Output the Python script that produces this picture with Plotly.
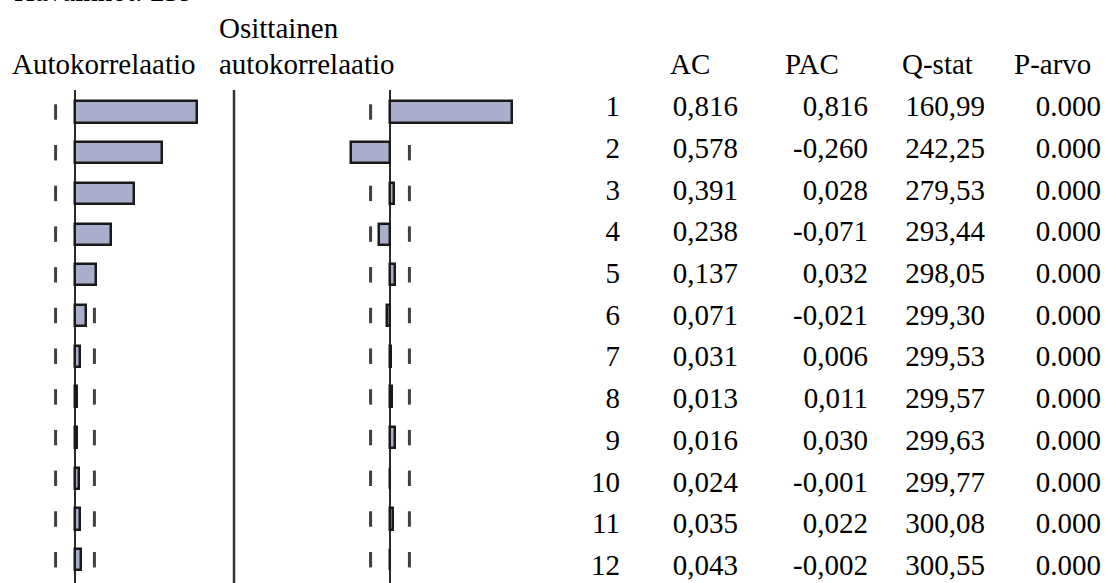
import plotly.graph_objects as go

# Correlogram data (239 observations)
lags = list(range(1, 13))
ac = [0.816, 0.578, 0.391, 0.238, 0.137, 0.071, 0.031, 0.013, 0.016, 0.024, 0.035, 0.043]
pac = [0.816, -0.260, 0.028, -0.071, 0.032, -0.021, 0.006, 0.011, 0.030, -0.001, 0.022, -0.002]
q_stat = [160.99, 242.25, 279.53, 293.44, 298.05, 299.30, 299.53, 299.57, 299.63, 299.77, 300.08, 300.55]
p_value = [0.000] * 12
n_obs = 239
conf_band = 2 / n_obs ** 0.5

col_headers = ["AC", "PAC", "Q-stat", "P-arvo"]

W, H = 1107, 583
FONT = "Liberation Serif"
FS = 29
BAR_FILL = "#a8aecb"
BAR_LINE = "#1a1a1a"
DASH_COL = "#404040"

top_px = 90
ydom_top = (H - top_px) / H


def fi(v, d):
    return f"{v:.{d}f}".replace(".", ",")


fig = go.Figure()

# bars
fig.add_trace(go.Bar(x=ac, y=lags, orientation="h", xaxis="x", yaxis="y",
                     width=0.52, marker=dict(color=BAR_FILL, line=dict(color=BAR_LINE, width=2.5)),
                     showlegend=False))
fig.add_trace(go.Bar(x=pac, y=lags, orientation="h", xaxis="x2", yaxis="y",
                     width=0.52, marker=dict(color=BAR_FILL, line=dict(color=BAR_LINE, width=2.5)),
                     showlegend=False))

# confidence band dashes in both panels, kept beneath the bars
shapes = []
for xa in ("x", "x2"):
    for lag in lags:
        for s in (-1, 1):
            shapes.append(dict(type="line", xref=xa, yref="y", layer="below",
                               x0=s * conf_band, x1=s * conf_band,
                               y0=lag - 0.19, y1=lag + 0.19,
                               line=dict(color=DASH_COL, width=3)))

# table columns (right-aligned)
col_right = [620, 738, 868, 985, 1101]
col_text = [
    [str(l) for l in lags],
    [fi(v, 3) for v in ac],
    [fi(v, 3) for v in pac],
    [fi(v, 2) for v in q_stat],
    [f"{v:.3f}" for v in p_value],
]
for xr, txt in zip(col_right, col_text):
    fig.add_trace(go.Scatter(x=[xr] * len(lags), y=lags, mode="text", text=txt,
                             textposition="middle left", xaxis="x3", yaxis="y3",
                             textfont=dict(family=FONT, size=FS, color="black"),
                             hoverinfo="skip", showlegend=False))

annos = []
for xl, h in zip([668, 783, 900, 1012], col_headers):
    annos.append(dict(x=xl, y=-0.07, xref="x3", yref="y3", text=h, showarrow=False,
                      xanchor="left", yanchor="middle"))
annos.append(dict(x=10, y=-0.07, xref="x3", yref="y3", text="Autokorrelaatio",
                  showarrow=False, xanchor="left", yanchor="middle"))
annos.append(dict(x=217, y=-0.07, xref="x3", yref="y3", text="autokorrelaatio",
                  showarrow=False, xanchor="left", yanchor="middle"))
annos.append(dict(x=217, y=-0.95, xref="x3", yref="y3", text="Osittainen",
                  showarrow=False, xanchor="left", yanchor="middle"))
annos.append(dict(x=12 / W, y=1 + 9 / H, xref="paper", yref="paper",
                  text=f"Havainnot: {n_obs}", showarrow=False,
                  xanchor="left", yanchor="middle"))
for a in annos:
    a["font"] = dict(family=FONT, size=FS, color="black")

scale = 150.0  # px per unit of correlation
zero_l, zero_r = 75, 390
left_dom = (0, 250)
right_dom = (250, 560)

row1, step = 112, 40.7
y_lo = 1 + (top_px - row1) / step
y_hi = 1 + (H - row1) / step

trow1, tstep = 109, 41.7

hidden = dict(showgrid=False, showticklabels=False, ticks="", showline=False, fixedrange=True)

shapes.append(dict(type="line", xref="paper", yref="paper", x0=234 / W, x1=234 / W,
                   y0=0, y1=ydom_top, line=dict(color="#333333", width=2.5)))

fig.update_layout(
    width=W, height=H, margin=dict(l=0, r=0, t=0, b=0),
    paper_bgcolor="white", plot_bgcolor="rgba(0,0,0,0)",
    bargap=0, barmode="overlay",
    xaxis=dict(domain=[left_dom[0] / W, left_dom[1] / W],
               range=[(left_dom[0] - zero_l) / scale, (left_dom[1] - zero_l) / scale],
               anchor="y", zeroline=True, zerolinecolor="#2a2a2a", zerolinewidth=2, **hidden),
    xaxis2=dict(domain=[right_dom[0] / W, right_dom[1] / W],
                range=[(right_dom[0] - zero_r) / scale, (right_dom[1] - zero_r) / scale],
                anchor="y", zeroline=True, zerolinecolor="#2a2a2a", zerolinewidth=2, **hidden),
    yaxis=dict(domain=[0, ydom_top], range=[y_hi, y_lo], anchor="x", zeroline=False, **hidden),
    xaxis3=dict(domain=[0, 1], range=[0, W], anchor="y3", zeroline=False, **hidden),
    yaxis3=dict(domain=[0, 1], range=[1 + (H - trow1) / tstep, 1 - trow1 / tstep],
                anchor="x3", zeroline=False, **hidden),
    annotations=annos,
    shapes=shapes,
)

fig.write_html("out.html")
